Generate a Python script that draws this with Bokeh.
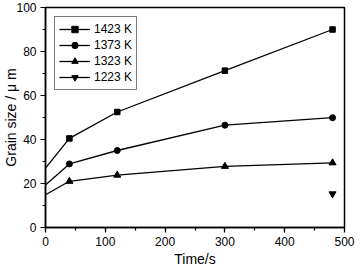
from bokeh.plotting import figure
from bokeh.embed import file_html
from bokeh.resources import INLINE
from bokeh.models import Range1d, SingleIntervalTicker

time_s = [0, 40, 120, 300, 480]
g1423 = [27.0, 40.5, 52.5, 71.3, 90.0]
g1373 = [19.3, 28.9, 35.0, 46.5, 49.9]
g1323 = [14.9, 21.0, 23.8, 27.8, 29.4]
time_1223 = [480]
g1223 = [15.3]

FONT = "Liberation Sans"

p = figure(width=355, height=269, output_backend="svg", toolbar_location=None,
           x_range=Range1d(0, 500), y_range=Range1d(0, 100),
           min_border_left=38, min_border_right=11, min_border_top=7, min_border_bottom=42)

p.xgrid.visible = False
p.ygrid.visible = False
p.outline_line_color = "black"
p.outline_line_width = 1.5
p.background_fill_color = "white"
p.border_fill_color = "white"

p.xaxis.ticker = SingleIntervalTicker(interval=100, num_minor_ticks=2)
p.yaxis.ticker = SingleIntervalTicker(interval=20, num_minor_ticks=2)

for ax in (p.xaxis[0], p.yaxis[0]):
    ax.axis_line_color = "black"
    ax.axis_line_width = 1.5
    ax.major_tick_line_color = "black"
    ax.major_tick_line_width = 1.2
    ax.minor_tick_line_color = "black"
    ax.minor_tick_line_width = 1.2
    ax.major_tick_in = 0
    ax.major_tick_out = 5
    ax.minor_tick_in = 0
    ax.minor_tick_out = 3
    ax.major_label_text_font = FONT
    ax.major_label_text_font_size = "12px"
    ax.major_label_text_color = "black"
    ax.axis_label_text_font = FONT
    ax.axis_label_text_font_size = "14px"
    ax.axis_label_text_font_style = "normal"
    ax.axis_label_text_color = "black"

p.xaxis.axis_label = "Time/s"
p.xaxis.major_label_standoff = 4
p.xaxis.axis_label_standoff = 2
p.yaxis.axis_label = "Grain size / \u03bc m"
p.yaxis.major_label_standoff = 4
p.yaxis.axis_label_standoff = -6

lw = 1.3
p.line(time_s, g1423, line_color="black", line_width=lw, legend_label="1423 K")
p.scatter(time_s[1:], g1423[1:], marker="square", size=5.5, color="black", legend_label="1423 K")
p.line(time_s, g1373, line_color="black", line_width=lw, legend_label="1373 K")
p.scatter(time_s[1:], g1373[1:], marker="circle", size=6, color="black", legend_label="1373 K")
p.line(time_s, g1323, line_color="black", line_width=lw, legend_label="1323 K")
p.scatter(time_s[1:], g1323[1:], marker="triangle", size=7, color="black", legend_label="1323 K")
p.line(time_1223, g1223, line_color="black", line_width=lw, legend_label="1223 K")
p.scatter(time_1223, g1223, marker="inverted_triangle", size=7, color="black", legend_label="1223 K")

lg = p.legend[0]
lg.location = "top_left"
lg.margin = 9
lg.padding = 4
lg.spacing = 0
lg.glyph_width = 31
lg.glyph_height = 16
lg.label_height = 16
lg.label_standoff = 4
lg.label_text_font = FONT
lg.label_text_font_size = "12px"
lg.label_text_color = "black"
lg.border_line_color = "black"
lg.border_line_width = 1.2
lg.background_fill_color = "white"
lg.background_fill_alpha = 1.0

open("out.html", "w").write(file_html(p, INLINE))
